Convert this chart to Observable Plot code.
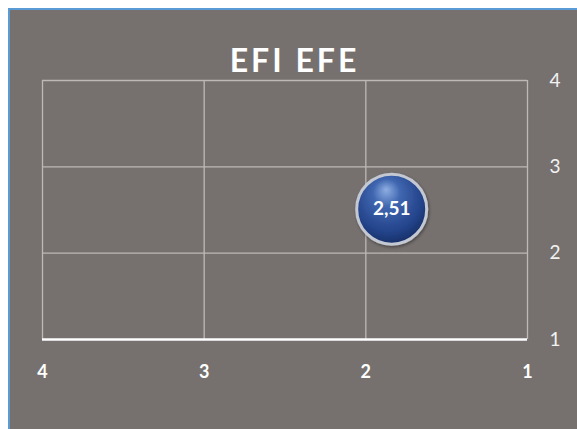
<!DOCTYPE html>
<html>
<head>
<meta charset="utf-8">
<script src="https://cdn.jsdelivr.net/npm/d3@7"></script>
<script src="https://cdn.jsdelivr.net/npm/@observablehq/plot@0.6"></script>
<style>
  html, body { margin: 0; padding: 0; background: #ffffff; }
  #wrap { position: relative; width: 577px; height: 429px; overflow: hidden; }
  #panel { position: absolute; left: 8px; top: 8px; width: 569px; height: 421px;
           background: #76716f; border-top: 2px solid #5b9bd5; border-left: 2px solid #5b9bd5; box-sizing: border-box; }
  #title { position: absolute; left: 0; width: 577px; top: 40px; text-align: center;
           font-family: Lato, "Open Sans", sans-serif; font-weight: 700; font-size: 32px;
           letter-spacing: 3px; color: #ffffff; line-height: 40px; padding-left: 12px; box-sizing: border-box; }
  #chart { position: absolute; left: 0; top: 0; }
</style>
</head>
<body>
<div id="wrap">
  <div id="panel"></div>
  <div id="chart"></div>
  <div id="title">EFI EFE</div>
</div>
<script>
const titleText = "EFI EFE";
const xTicks = [4, 3, 2, 1];
const yTicks = [1, 2, 3, 4];
const bubbleX = [1.84];
const bubbleY = [2.51];
const bubbleLabels = ["2,51"];

const points = bubbleX.map((x, i) => ({x, y: bubbleY[i], label: bubbleLabels[i]}));

const gridColor = "#bdb9b7";

const svg = Plot.plot({
  width: 577,
  height: 429,
  marginLeft: 42,
  marginRight: 50,
  marginTop: 80,
  marginBottom: 90,
  style: { background: "transparent", fontFamily: "Lato, 'Open Sans', sans-serif" },
  x: { domain: [4, 1], ticks: xTicks },
  y: { domain: [1, 4], ticks: yTicks },
  marks: [
    Plot.gridX(xTicks, { stroke: gridColor, strokeOpacity: 1, strokeWidth: 1.3 }),
    Plot.gridY(yTicks.filter(d => d !== 1), { stroke: gridColor, strokeOpacity: 1, strokeWidth: 1.3 }),
    Plot.ruleY([1], { stroke: "#ffffff", strokeWidth: 2.6 }),
    Plot.axisX(xTicks, { anchor: "bottom", tickSize: 0, tickPadding: 26, tickFormat: d => String(d), fill: "#ffffff", fontSize: 18, fontWeight: "bold", label: null }),
    Plot.axisY(yTicks, { anchor: "right", tickSize: 0, tickPadding: 22, tickFormat: d => String(d), fill: "#f2f2f2", fontSize: 19, label: null }),
    Plot.dot(points, { x: "x", y: "y", r: 35, fill: "#2a4d92", stroke: "#c3c8d2", strokeWidth: 3 }),
    Plot.text(points, { x: "x", y: "y", text: "label", fill: "#ffffff", fontSize: 19, fontWeight: "bold" })
  ]
});

// Gradient for the 3D bubble look
const s = d3.select(svg);
const defs = s.insert("defs", ":first-child");
const grad = defs.append("radialGradient").attr("id", "bubbleGrad")
  .attr("cx", "45%").attr("cy", "38%").attr("r", "65%").attr("fx", "42%").attr("fy", "22%");
grad.append("stop").attr("offset", "0%").attr("stop-color", "#8eaee2");
grad.append("stop").attr("offset", "30%").attr("stop-color", "#4067b0");
grad.append("stop").attr("offset", "75%").attr("stop-color", "#23438a");
grad.append("stop").attr("offset", "100%").attr("stop-color", "#152d62");
const filt = defs.append("filter").attr("id", "shadow").attr("x", "-30%").attr("y", "-30%").attr("width", "160%").attr("height", "160%");
filt.append("feDropShadow").attr("dx", 1).attr("dy", 1.5).attr("stdDeviation", 1.5).attr("flood-color", "#000").attr("flood-opacity", 0.4);
s.selectAll("circle").attr("fill", "url(#bubbleGrad)").attr("filter", "url(#shadow)");

document.getElementById("chart").appendChild(svg);
document.getElementById("title").textContent = titleText;
</script>
</body>
</html>
